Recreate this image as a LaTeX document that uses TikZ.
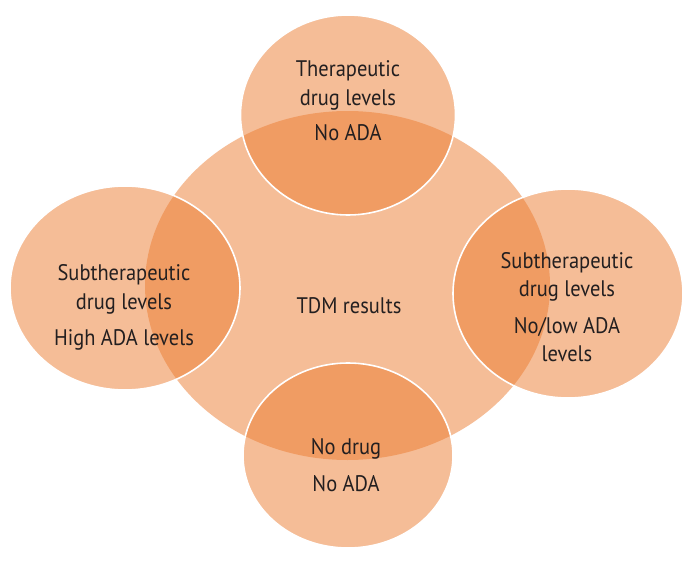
\documentclass[tikz,border=0pt]{standalone}
\usepackage{fontspec}
\setmainfont{PT Sans}[FakeStretch=0.91]
\usetikzlibrary{shapes.geometric}
\definecolor{tdmorange}{HTML}{ED7D31}
\definecolor{tdmtext}{HTML}{231F20}

\begin{document}
\begin{tikzpicture}[x=1pt,y=-1pt,
    blob/.style={ellipse,fill=tdmorange,fill opacity=0.5,inner sep=0pt,outer sep=0pt},
    ring/.style={blob,draw=white,line width=1.6pt},
    lbl/.style={text=tdmtext,align=center,inner sep=0pt,
                font=\fontsize{22.5}{28.5}\selectfont}]

 \useasboundingbox[fill=white] (0,0) rectangle (697,562);

 % central result and the four outcomes
 \node[blob,minimum width=405pt,minimum height=349pt] (tdm)    at (347.5,285.5) {};
 \node[ring,minimum width=215pt,minimum height=200pt] (ther)   at (348,115)     {};
 \node[ring,minimum width=230pt,minimum height=204pt] (subhi)  at (125,288)     {};
 \node[ring,minimum width=230pt,minimum height=209pt] (sublow) at (568,293.5)   {};
 \node[ring,minimum width=210pt,minimum height=185pt] (nodrug) at (348,455.5)   {};

 \node[lbl] (tdmtxt)    at (349,306)   {TDM results};
 \node[lbl] (thertxt)   at (348,101) {Therapeutic\\drug levels\\[7pt]No ADA};
 \node[lbl] (subhitxt)  at (124,307.5)   {Subtherapeutic\\drug levels\\[8pt]High ADA levels};
 \node[lbl] (sublowtxt) at (567,307)   {Subtherapeutic\\drug levels\\[8pt]No/low ADA\\levels};
 \node[lbl] (nodrugtxt) at (346,465)   {No drug\\[9pt]No ADA};

\end{tikzpicture}
\end{document}
